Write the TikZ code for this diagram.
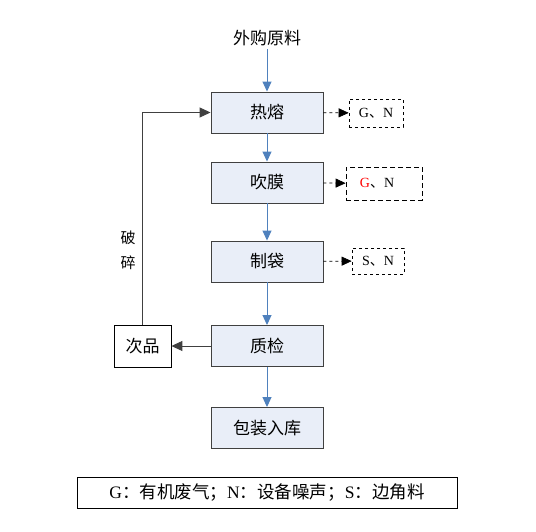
\documentclass[tikz,border=0pt]{standalone}
\usepackage{fontspec}
\setmainfont{Noto Sans CJK SC}
\newfontfamily\latn{Liberation Serif}
\usetikzlibrary{arrows.meta}
\definecolor{boxfill}{HTML}{E9EEF8}
\definecolor{flowblue}{HTML}{4F81BD}
\definecolor{edgegray}{HTML}{404040}
\begin{document}
\begin{tikzpicture}[x=1pt,y=-1pt,
  proc/.style={draw=edgegray,line width=0.9pt,fill=boxfill,minimum width=112pt,minimum height=41pt,inner sep=0pt,font=\fontsize{17}{17}\selectfont},
  plain/.style={draw=black,line width=0.8pt,fill=white,minimum width=57pt,minimum height=42pt,inner sep=0pt,font=\fontsize{17}{17}\selectfont},
  emis/.style={draw=black,dashed,line width=0.7pt,inner sep=0pt,font=\fontsize{14}{14}\selectfont},
  flow/.style={draw=flowblue,line width=1pt,-{Triangle[length=10pt,width=9pt]}},
  darr/.style={draw=black,dashed,line width=0.7pt,-{Triangle[length=10pt,width=9pt]}},
  garr/.style={draw=edgegray,line width=1pt,-{Triangle[length=11pt,width=10pt]}}]
\useasboundingbox (0,0) rectangle (536,532);
\node[font=\fontsize{17}{17}\selectfont] (src) at (267,38) {外购原料};
\node[proc] (rr) at (267,112.5) {热熔};
\node[proc] (cm) at (267,182.5) {吹膜};
\node[proc] (zd) at (267,261.5) {制袋};
\node[proc] (zj) at (267,346) {质检};
\node[proc] (bz) at (267,428) {包装入库};
\node[plain] (cp) at (142.5,346) {次品};
\node[emis,minimum width=54pt,minimum height=28pt] (e1) at (376,113) {{\latn G}、{\latn N}};
\node[emis,minimum width=76pt,minimum height=33pt,dash pattern=on 5pt off 3pt] (e2) at (384,183.5) {\hspace*{-14pt}\textcolor{red}{\latn G}、{\latn N}};
\node[emis,minimum width=52pt,minimum height=26pt] (e3) at (378,261) {{\latn S}、{\latn N}};
\node[font=\fontsize{15}{15}\selectfont] (ps1) at (128,238) {破};
\node[font=\fontsize{15}{15}\selectfont] (ps2) at (128,263) {碎};
\node[draw=black,line width=0.8pt,minimum width=380pt,minimum height=31pt,inner sep=0pt,font=\fontsize{17.5}{17.5}\selectfont] (lg) at (267,492.5) {{\latn G}：有机废气；{\latn N}：设备噪声；{\latn S}：边角料};
\coordinate (corner) at (cp.north |- rr.west);
\draw[flow] (src) -- (rr);
\draw[flow] (rr) -- (cm);
\draw[flow] (cm) -- (zd);
\draw[flow] (zd) -- (zj);
\draw[flow] (zj) -- (bz);
\draw[garr] (zj) -- (cp);
\draw[garr] (cp.north) -- (corner) -- (rr.west);
\draw[darr] (rr) -- (e1);
\draw[darr] (cm) -- (e2);
\draw[darr] (zd) -- (e3);
\end{tikzpicture}
\end{document}
